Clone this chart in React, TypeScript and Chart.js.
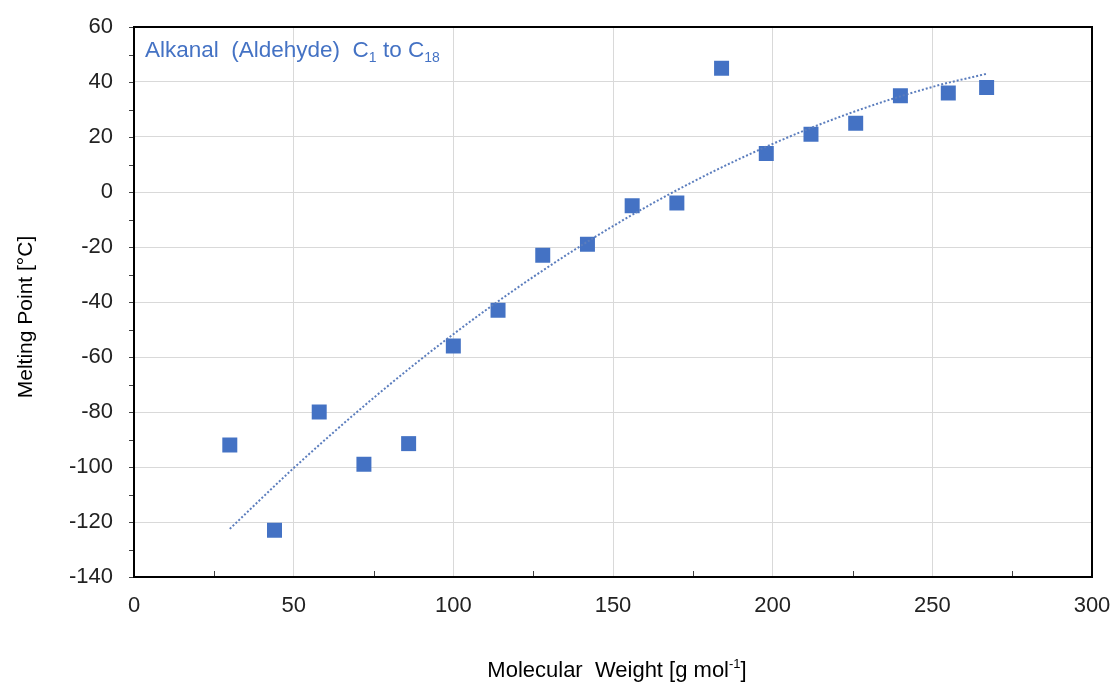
import React, { useEffect, useRef } from "react";
import { Chart, registerables } from "chart.js";

Chart.register(...registerables);

// Molecular weight [g/mol] of alkanals C1..C18
const molecularWeight = [30, 44, 58, 72, 86, 100, 114, 128, 142, 156, 170, 184, 198, 212, 226, 240, 255, 267];
// Melting point [°C]
const meltingPoint = [-92, -123, -80, -99, -91.5, -56, -43, -23, -19, -5, -4, 45, 14, 21, 25, 35, 36, 38];

// Trendline
const trendX = [30, 50, 75, 100, 125, 150, 175, 200, 225, 250, 267];
const trendY = [-122.5, -100.4, -74.9, -51.7, -30.9, -12.4, 3.7, 17.5, 29.0, 38.2, 43.0];

const xTicks = [0, 50, 100, 150, 200, 250, 300];
const yTicks = [-140, -120, -100, -80, -60, -40, -20, 0, 20, 40, 60];
const xMinorTicks = [25, 75, 125, 175, 225, 275];
const yMinorTicks = [-130, -110, -90, -70, -50, -30, -10, 10, 30, 50];

const FONT = "'Liberation Sans', Arial, sans-serif";
const BLUE = "#4472C4";

const overlayPlugin = {
  id: "overlay",
  afterDraw(chart: any) {
    const ctx = chart.ctx as CanvasRenderingContext2D;
    const a = chart.chartArea;
    const xs = chart.scales.x;
    const ys = chart.scales.y;
    ctx.save();
    // minor ticks
    ctx.strokeStyle = "#404040";
    ctx.lineWidth = 1;
    ctx.beginPath();
    for (const v of [...yTicks, ...yMinorTicks]) {
      const y = Math.round(ys.getPixelForValue(v)) + 0.5;
      ctx.moveTo(a.left - 5, y);
      ctx.lineTo(a.left, y);
    }
    for (const v of xMinorTicks) {
      const x = Math.round(xs.getPixelForValue(v)) + 0.5;
      ctx.moveTo(x, a.bottom);
      ctx.lineTo(x, a.bottom - 6);
    }
    ctx.stroke();
    // border
    ctx.strokeStyle = "#000";
    ctx.lineWidth = 2;
    ctx.strokeRect(a.left, a.top, a.right - a.left, a.bottom - a.top);

    // in-plot title with subscripts
    ctx.fillStyle = BLUE;
    ctx.textBaseline = "alphabetic";
    ctx.textAlign = "left";
    const big = `22.5px ${FONT}`;
    const small = `14px ${FONT}`;
    const parts: [string, boolean][] = [
      ["Alkanal  (Aldehyde)  C", false],
      ["1", true],
      [" to C", false],
      ["18", true],
    ];
    let x = 145;
    const base = 57;
    for (const [t, sub] of parts) {
      ctx.font = sub ? small : big;
      ctx.fillText(t, x, sub ? base + 5 : base);
      x += ctx.measureText(t).width;
    }

    // x axis title with superscript
    ctx.fillStyle = "#000";
    const xb = `22px ${FONT}`;
    const xParts: [string, boolean][] = [
      ["Molecular  Weight [g mol", false],
      ["-1", true],
      ["]", false],
    ];
    let total = 0;
    for (const [t, sup] of xParts) {
      ctx.font = sup ? `13px ${FONT}` : xb;
      total += ctx.measureText(t).width;
    }
    let px = 617 - total / 2;
    for (const [t, sup] of xParts) {
      ctx.font = sup ? `13px ${FONT}` : xb;
      ctx.fillText(t, px, sup ? 668 : 677);
      px += ctx.measureText(t).width;
    }

    // y axis title
    ctx.save();
    ctx.translate(32, 317);
    ctx.rotate(-Math.PI / 2);
    ctx.font = `21px ${FONT}`;
    ctx.textAlign = "center";
    ctx.fillText("Melting Point [°C]", 0, 0);
    ctx.restore();

    ctx.restore();
  },
};

const noPad = (s: any) => {
  s.paddingTop = 0;
  s.paddingBottom = 0;
  s.paddingLeft = 0;
  s.paddingRight = 0;
};

export default function App() {
  const ref = useRef<HTMLCanvasElement | null>(null);
  useEffect(() => {
    if (!ref.current) return;
    const chart = new Chart(ref.current, {
      type: "scatter",
      data: {
        datasets: [
          {
            type: "line",
            data: trendX.map((x, i) => ({ x, y: trendY[i] })),
            borderColor: "#5b7dbd",
            borderWidth: 2,
            borderDash: [2, 2],
            pointRadius: 0,
            fill: false,
            cubicInterpolationMode: "monotone",
            order: 0,
          } as any,
          {
            data: molecularWeight.map((x, i) => ({ x, y: meltingPoint[i] })),
            backgroundColor: BLUE,
            borderWidth: 0,
            pointStyle: "rect",
            pointRadius: 10.6,
            order: 1,
          },
        ],
      },
      plugins: [overlayPlugin],
      options: {
        animation: false,
        responsive: false,
        devicePixelRatio: 1,
        layout: { padding: { top: 27, right: 23, left: 0, bottom: 0 } },
        plugins: { legend: { display: false }, tooltip: { enabled: false } },
        scales: {
          x: {
            type: "linear",
            min: 0,
            max: 300,
            afterFit: (s: any) => {
              s.height = 105;
              noPad(s);
            },
            afterBuildTicks: (s: any) => {
              s.ticks = xTicks.map((v) => ({ value: v }));
            },
            grid: { color: "#d9d9d9", lineWidth: 1, drawTicks: false },
            border: { display: false },
            ticks: { padding: 16, color: "#222", font: { family: FONT, size: 22 } },
          },
          y: {
            type: "linear",
            min: -140,
            max: 60,
            afterFit: (s: any) => {
              s.width = 134;
              noPad(s);
            },
            afterBuildTicks: (s: any) => {
              s.ticks = yTicks.map((v) => ({ value: v }));
            },
            grid: { color: "#d9d9d9", lineWidth: 1, drawTicks: false },
            border: { display: false },
            ticks: { padding: 21, color: "#222", font: { family: FONT, size: 22 } },
          },
        },
      },
    });
    return () => chart.destroy();
  }, []);
  return (
    <div style={{ position: "absolute", left: 0, top: 0, width: 1115, height: 682, background: "#fff" }}>
      <canvas ref={ref} width={1115} height={682} style={{ display: "block" }} />
    </div>
  );
}
